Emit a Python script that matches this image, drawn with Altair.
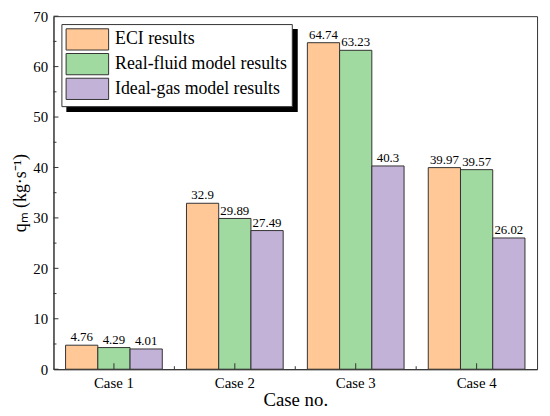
import altair as alt
import pandas as pd

cases = ["Case 1", "Case 2", "Case 3", "Case 4"]
series = ["ECI results", "Real-fluid model results", "Ideal-gas model results"]
eci = [4.76, 32.9, 64.74, 39.97]
real_fluid = [4.29, 29.89, 63.23, 39.57]
ideal_gas = [4.01, 27.49, 40.3, 26.02]
colors = ["#FFC896", "#A0DAA0", "#C3B2D7"]

y_major = [0, 10, 20, 30, 40, 50, 60, 70]
y_minor = [5, 15, 25, 35, 45, 55, 65]
x_major = [1, 2, 3, 4]
x_minor = [1.5, 2.5, 3.5]

rows = []
for s, vals in zip(series, [eci, real_fluid, ideal_gas]):
    for c, v in zip(cases, vals):
        rows.append({"case": c, "series": s, "value": v, "label": str(v)})
df = pd.DataFrame(rows)

FONT = "Liberation Serif"
W, H = 489, 357

xscale = alt.Scale(domain=cases, paddingInner=0.2, paddingOuter=0.1)
yscale = alt.Scale(domain=[0, 70], nice=False, zero=True)

base = alt.Chart(df)

bars = base.mark_bar(stroke="#333333", strokeWidth=1).encode(
    x=alt.X("case:N", scale=xscale, sort=cases,
            axis=alt.Axis(title="Case no.", labelAngle=0, ticks=False, labelPadding=6,
                          labelFontSize=15, titleFontSize=19, titlePadding=1,
                          labelFont=FONT, titleFont=FONT, titleFontWeight="normal",
                          domainColor="#333333", labelColor="black", titleColor="black")),
    xOffset=alt.XOffset("series:N", sort=series),
    y=alt.Y("value:Q", scale=yscale,
            axis=alt.Axis(title="qₘ (kg·s⁻¹)", values=y_major, ticks=False, grid=False,
                          labelPadding=6, labelFontSize=15, titleFontSize=18, titlePadding=3,
                          labelFont=FONT, titleFont=FONT, titleFontWeight="normal",
                          domainColor="#333333", labelColor="black", titleColor="black")),
    color=alt.Color("series:N", sort=series,
                    scale=alt.Scale(domain=series, range=colors),
                    legend=alt.Legend(title=None, orient="none", legendX=8, legendY=8,
                                      symbolType="M-2,-1H2V1H-2Z", symbolSize=462,
                                      symbolOffset=10.75,
                                      symbolStrokeColor="#333333", symbolStrokeWidth=1,
                                      labelFont=FONT, labelFontSize=18, labelOffset=16.5,
                                      labelLimit=400,
                                      labelColor="black", rowPadding=-4, padding=4,
                                      strokeColor="#333333", fillColor="white")),
)

text = base.mark_text(baseline="bottom", dy=-1, font=FONT, fontSize=13, color="black").encode(
    x=alt.X("case:N", scale=xscale, sort=cases, axis=None),
    xOffset=alt.XOffset("series:N", sort=series),
    y=alt.Y("value:Q", scale=yscale),
    text="label:N",
)

ymaj = alt.Chart(pd.DataFrame({"v": y_major})).mark_rule(color="#333333").encode(
    y=alt.Y("v:Q", scale=yscale), x=alt.value(0), x2=alt.value(5))
ymin = alt.Chart(pd.DataFrame({"v": y_minor})).mark_rule(color="#333333").encode(
    y=alt.Y("v:Q", scale=yscale), x=alt.value(0), x2=alt.value(3))

xq = alt.Scale(domain=[0.5, 4.5], nice=False, zero=False)
xmaj = alt.Chart(pd.DataFrame({"p": x_major})).mark_rule(color="#333333").encode(
    x=alt.X("p:Q", scale=xq, axis=None), y=alt.value(H), y2=alt.value(H - 6))
xmin = alt.Chart(pd.DataFrame({"p": x_minor})).mark_rule(color="#333333").encode(
    x=alt.X("p:Q", scale=xq, axis=None), y=alt.value(H), y2=alt.value(H - 3))

shadow = alt.Chart(pd.DataFrame({"a": [0]})).mark_rect(color="black", opacity=1).encode(
    x=alt.value(13), x2=alt.value(247), y=alt.value(13), y2=alt.value(97))

chart = alt.layer(shadow, bars, text, xmaj, xmin, ymaj, ymin).resolve_scale(
    x="independent"
).properties(
    width=W, height=H,
    autosize=alt.AutoSizeParams(type="none"),
    padding={"left": 46, "top": 6, "right": 5, "bottom": 40},
).configure(font=FONT).configure_view(stroke="#333333", strokeWidth=1)

chart.save("out.html", embed_options={"renderer": "svg", "actions": False})
